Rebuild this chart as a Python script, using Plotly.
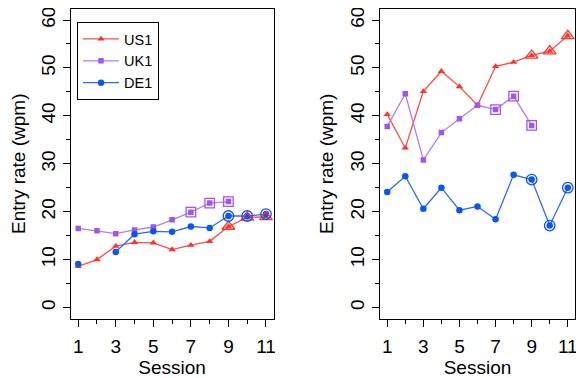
import plotly.graph_objects as go

sessions = list(range(1, 12))

# Left panel values (entry rate, wpm)
us1_left = [8.6, 10.0, 12.8, 13.6, 13.5, 12.1, 13.0, 13.8, 16.9, 18.8, 18.9]
uk1_left = [16.5, 16.0, 15.4, 16.2, 16.8, 18.3, 19.9, 21.8, 22.1, None, None]
de1_left = [9.1, None, 11.6, 15.3, 15.9, 15.8, 16.9, 16.6, 19.1, 19.1, 19.5]

# Right panel values (entry rate, wpm)
us1_right = [40.3, 33.3, 45.1, 49.3, 46.1, 42.2, 50.3, 51.2, 52.6, 53.5, 56.7]
uk1_right = [37.8, 44.6, 30.8, 36.5, 39.4, 42.2, 41.3, 44.1, 38.0, None, None]
de1_right = [24.1, 27.4, 20.6, 25.0, 20.3, 21.1, 18.4, 27.7, 26.7, 17.1, 25.0]

# Sessions highlighted with open markers
hl_us1 = [9, 10, 11]
hl_uk1 = [7, 8, 9]
hl_de1 = [9, 10, 11]

series_names = ["US1", "UK1", "DE1"]
marker_colors = ["#FF3326", "#A056EE", "#0A55F5"]
line_colors = ["#FF4D42", "#B07EF2", "#2E6CF5"]
filled_symbols = ["triangle-up", "square", "circle"]
filled_sizes = [6.5, 5.5, 6.5]
open_symbols = ["triangle-up-open", "square-open", "circle-open"]
open_sizes = [11, 9.5, 10.5]

FONT = "Liberation Sans, Arial, Helvetica, sans-serif"

fig = go.Figure()

panels = [
    ("x", "y", [us1_left, uk1_left, de1_left], True),
    ("x2", "y2", [us1_right, uk1_right, de1_right], False),
]
highlights = [hl_us1, hl_uk1, hl_de1]

for xa, ya, vals, show_leg in panels:
    for i, name in enumerate(series_names):
        fig.add_trace(go.Scatter(
            x=sessions, y=vals[i], name=name, mode="lines+markers",
            xaxis=xa, yaxis=ya, connectgaps=False, showlegend=show_leg,
            line=dict(color=line_colors[i], width=1.3),
            marker=dict(symbol=filled_symbols[i], size=filled_sizes[i], color=marker_colors[i]),
        ))
    for i, name in enumerate(series_names):
        hx = highlights[i]
        hy = [vals[i][s - 1] for s in hx]
        fig.add_trace(go.Scatter(
            x=hx, y=hy, mode="markers", xaxis=xa, yaxis=ya, showlegend=False,
            marker=dict(symbol=open_symbols[i], size=open_sizes[i],
                        color=marker_colors[i], line=dict(width=1.3, color=marker_colors[i])),
        ))

W, H = 584, 378

def xax(domain, anchor):
    return dict(
        domain=domain, range=[0.6, 11.4], tick0=1, dtick=2, anchor=anchor,
        automargin=False, ticklabeloverflow="allow",
        ticks="outside", ticklen=7, tickwidth=1, tickcolor="black",
        showline=True, mirror=True, linecolor="black", linewidth=1,
        showgrid=False, zeroline=False, ticklabelstandoff=3,
        tickfont=dict(size=19, color="black", family=FONT),
        title=dict(text="Session", font=dict(size=19, color="black", family=FONT), standoff=2),
        minor=dict(dtick=1, tick0=1, ticks="outside", ticklen=4, tickcolor="black", showgrid=False),
    )

def yax(domain, anchor):
    return dict(
        domain=domain, range=[-2.4, 62.4], tick0=0, dtick=10, anchor=anchor,
        automargin=False, ticklabeloverflow="allow",
        ticks="outside", ticklen=7, tickwidth=1, tickcolor="black",
        showline=True, mirror=True, linecolor="black", linewidth=1,
        showgrid=False, zeroline=False, tickangle=-90,
        tickfont=dict(size=19, color="black", family=FONT),
        title=dict(text="Entry rate (wpm)", font=dict(size=19, color="black", family=FONT), standoff=8),
        minor=dict(dtick=5, tick0=0, ticks="outside", ticklen=4, tickcolor="black", showgrid=False),
    )

ydom = [1 - 311 / H, 1 - 0.5 / H]
fig.update_layout(
    width=W, height=H,
    margin=dict(l=0, r=0, t=0, b=0, autoexpand=False),
    paper_bgcolor="white", plot_bgcolor="white",
    font=dict(family=FONT, color="black"),
    xaxis=xax([62.7 / W, 265.5 / W], "y"),
    yaxis=yax(ydom, "x"),
    xaxis2=xax([372 / W, 567 / W], "y2"),
    yaxis2=yax(ydom, "x2"),
    legend=dict(
        x=69 / W, y=1 - 14 / H, xanchor="left", yanchor="top",
        bgcolor="white", bordercolor="black", borderwidth=1,
        font=dict(size=14.5, color="black", family=FONT),
        tracegroupgap=0, itemwidth=36,
    ),
)

fig.write_html("out.html")
